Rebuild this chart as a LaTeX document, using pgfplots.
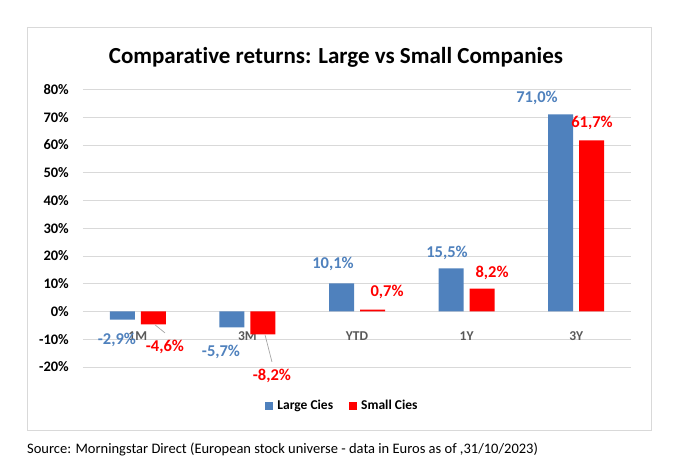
\documentclass[border=0pt]{standalone}
\usepackage{fontspec}
\setmainfont{Carlito}[Ligatures=NoCommon]
\usepackage{pgfplots}
\pgfplotsset{compat=1.18}

\definecolor{largeblue}{HTML}{4F81BD}
\definecolor{smallred}{HTML}{FF0000}
\definecolor{gridgray}{HTML}{D9D9D9}
\definecolor{catgray}{HTML}{595959}
\definecolor{leadergray}{HTML}{A6A6A6}

\begin{document}
\begin{tikzpicture}[x=1pt,y=1pt]
% page = 675 x 466, 1pt per pixel
\path[use as bounding box] (0,0) rectangle (675,466);
\draw[gridgray, line width=1pt] (27,35) rectangle (651,438);
\node[font=\fontsize{23}{26}\selectfont\bfseries] at (336,409) {Comparative returns: Large vs Small Companies};
\node[anchor=west, inner sep=0pt, font=\fontsize{14.5}{17}\selectfont] at (27,17)
  {Source: Morningstar Direct (European stock universe - data in Euros as of ,31/10/2023)};

\begin{axis}[
    at={(83pt,99pt)}, anchor=south west,
    scale only axis, width=548pt, height=277.5pt,
    clip=false,
    ybar=6pt, bar width=25pt,
    xmin=-0.5, xmax=4.5,
    ymin=-20, ymax=80,
    ytick={-20,-10,0,10,20,30,40,50,60,70,80},
    yticklabels={-20\%,-10\%,0\%,10\%,20\%,30\%,40\%,50\%,60\%,70\%,80\%},
    xtick={0,1,2,3,4},
    xticklabels={1M,3M,YTD,1Y,3Y},
    ymajorgrids, grid style={gridgray, line width=0.8pt},
    axis line style={draw=none},
    major tick style={draw=none},
    yticklabel style={anchor=east, inner sep=0pt, xshift=-14pt,
      font=\fontsize{14.5}{16}\selectfont\bfseries},
    xticklabel style={anchor=center, inner sep=0pt, yshift=35pt,
      text=catgray, font=\fontsize{13.5}{16}\selectfont\bfseries},
    legend columns=2,
    legend style={at={(0.4717,-0.1405)}, anchor=center, draw=none,
      fill=none, inner sep=0pt,
      font=\fontsize{13.5}{16}\selectfont\bfseries,
      nodes={inner sep=0pt},
      /tikz/every odd column/.append style={column sep=4pt},
      /tikz/every even column/.append style={column sep=16pt}},
    legend image code/.code={\fill[#1] (0pt,-4pt) rectangle (8pt,4pt);},
  ]
  \addplot[fill=largeblue, draw=none] coordinates
    {(0,-2.9) (1,-5.7) (2,10.1) (3,15.5) (4,71.0)};
  \addlegendentry{Large Cies}
  \addplot[fill=smallred, draw=none] coordinates
    {(0,-4.6) (1,-8.2) (2,0.7) (3,8.2) (4,61.7)};
  \addlegendentry{Small Cies}

  % data labels, placed as in the original
  \begin{scope}[every node/.style={font=\fontsize{16.5}{18}\selectfont\bfseries, inner sep=0pt}]
  \node[text=largeblue] at (axis cs:3.642,76.97) {71,0\%};
  \node[text=smallred]  at (axis cs:4.144,67.96) {61,7\%};
  \node[text=largeblue] at (axis cs:1.781,17.15) {10,1\%};
  \node[text=smallred]  at (axis cs:2.274,7.06) {0,7\%};
  \node[text=largeblue] at (axis cs:2.821,21.1) {15,5\%};
  \node[text=smallred]  at (axis cs:3.232,13.9) {8,2\%};
  \node[text=largeblue] at (axis cs:-0.19,-10.23) {-2,9\%};
  \node[text=smallred]  at (axis cs:0.248,-12.76) {-4,6\%};
  \node[text=largeblue] at (axis cs:0.759,-14.56) {-5,7\%};
  \node[text=smallred]  at (axis cs:1.224,-23.2) {-8,2\%};
  \end{scope}
  \draw[leadergray, line width=0.7pt] (axis cs:0.157,-4.8) -- (axis cs:0.248,-7.7);
  \draw[leadergray, line width=0.7pt] (axis cs:1.161,-8.43) -- (axis cs:1.224,-18.16);
\end{axis}
\end{tikzpicture}
\end{document}
